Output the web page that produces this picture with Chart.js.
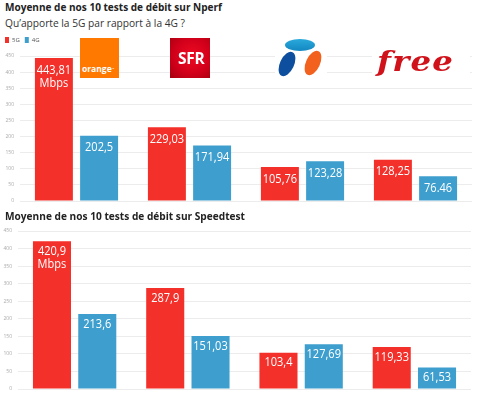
<!DOCTYPE html>
<html><head><meta charset="utf-8">
<script src="https://cdn.jsdelivr.net/npm/chart.js@4.4.0/dist/chart.umd.min.js"></script>
<style>
html,body{margin:0;padding:0;background:#fff;}
#wrap{position:relative;width:480px;height:398px;overflow:hidden;font-family:"Open Sans",sans-serif;}
.t{position:absolute;left:5px;white-space:nowrap;line-height:14px;transform-origin:0 0;}
.b{font-weight:700;font-size:11px;color:#222;}
.s{font-size:11px;color:#333;}
canvas{position:absolute;left:0;}
.logo{position:absolute;overflow:hidden;}
.ov{position:absolute;border-radius:50%;}
</style></head>
<body>
<div id="wrap">
  <canvas id="c1" width="480" height="180" style="top:30px"></canvas>
  <canvas id="c2" width="480" height="176" style="top:222px"></canvas>
  <div class="t b" id="t1" style="top:0px" data-w="217">Moyenne de nos 10 tests de débit sur Nperf</div>
  <div class="t s" id="t2" style="top:16px" data-w="180">Qu’apporte la 5G par rapport à la 4G ?</div>
  <div class="t b" id="t3" style="top:209px" data-w="240">Moyenne de nos 10 tests de débit sur Speedtest</div>

  <div class="logo" style="left:80px;top:38px;width:39px;height:40px;background:#ff7900;">
    <span style="position:absolute;left:2px;top:26px;color:#fff;font:700 8.5px/10px 'Open Sans';white-space:nowrap;">orange<span style="font-size:3px;vertical-align:top">™</span></span>
  </div>
  <div class="logo" style="left:170px;top:38px;width:40px;height:40px;background:radial-gradient(circle at 55% 45%, #ee0a22 0%, #d3001b 55%, #a5000f 100%);">
    <span style="position:absolute;left:8px;top:12px;color:#fff;font:700 15.5px/16px 'Open Sans';letter-spacing:-0.3px;">SFR</span>
  </div>
  <div class="logo" style="left:275px;top:37px;width:52px;height:41px;background:#fff;">
    <div class="ov" style="left:10px;top:2px;width:30px;height:12px;background:linear-gradient(#29a9db,#1487c2);"></div>
    <div class="ov" style="left:5px;top:14px;width:14px;height:26px;background:#0d4f9e;transform:rotate(25deg);"></div>
    <div class="ov" style="left:31px;top:13px;width:14px;height:26px;background:#f2611d;transform:rotate(25deg);"></div>
  </div>
  <div class="logo" style="left:372px;top:40px;width:98px;height:40px;background:#fff;">
    <span style="position:absolute;left:5px;top:4px;color:#d0121b;font:italic 700 27px/36px 'DejaVu Serif';letter-spacing:1px;transform:scaleX(1.2);transform-origin:0 0;white-space:nowrap;">free</span>
  </div>
</div>
<script>
const categories = ["Orange", "SFR", "Bouygues Telecom", "Free"];
const seriesNames = ["5G", "4G"];
const nperf5G = [443.81, 229.03, 105.76, 128.25];
const nperf4G = [202.5, 171.94, 123.28, 76.46];
const speedtest5G = [420.9, 287.9, 103.4, 119.33];
const speedtest4G = [213.6, 151.03, 127.69, 61.53];
const nperf5GLabels = ["443,81\nMbps", "229,03", "105,76", "128,25"];
const nperf4GLabels = ["202,5", "171,94", "123,28", "76.46"];
const speedtest5GLabels = ["420,9\nMbps", "287,9", "103,4", "119,33"];
const speedtest4GLabels = ["213,6", "151,03", "127,69", "61,53"];
const yTicks = [0, 50, 100, 150, 200, 250, 300, 350, 400, 450];

const RED = '#f4302b';
const BLUE = '#3e9fce';

// fit titles to reference widths
(function(){
  const m = document.createElement('canvas').getContext('2d');
  document.querySelectorAll('.t').forEach(el => {
    const cs = getComputedStyle(el);
    m.font = cs.fontWeight + ' ' + cs.fontSize + ' "Open Sans"';
    const w = m.measureText(el.textContent).width;
    el.style.transform = 'scaleX(' + (parseFloat(el.dataset.w) / w) + ')';
  });
})();

const valueLabels = {
  id: 'valueLabels',
  afterDatasetsDraw(chart, args, opts) {
    const ctx = chart.ctx;
    chart.data.datasets.forEach((ds, i) => {
      const meta = chart.getDatasetMeta(i);
      meta.data.forEach((bar, j) => {
        const lines = ds.valueLabels[j].split('\n');
        lines.forEach((ln, k) => {
          ctx.save();
          ctx.fillStyle = '#ffffff';
          ctx.font = '13px "Open Sans"';
          ctx.textAlign = 'center';
          ctx.textBaseline = 'middle';
          ctx.translate(bar.x, bar.y + opts.offset + k * opts.lineGap);
          ctx.scale(0.85, 1);
          ctx.fillText(ln, 0, 0);
          ctx.restore();
        });
      });
    });
  }
};

const legendSpacer = {
  id: 'legendSpacer',
  beforeLayout(chart) {
    const lg = chart.legend;
    if (lg && !lg._spaced) {
      const f = lg.fit;
      lg.fit = function() { f.call(this); if (this.options.display) this.height += 3; };
      lg._spaced = true;
    }
  }
};

function makeChart(id, d5, d4, l5, l4, cfg) {
  const plugins = [valueLabels];
  if (cfg.legend) plugins.push(legendSpacer);
  return new Chart(document.getElementById(id), {
    type: 'bar',
    data: {
      labels: categories,
      datasets: [
        { label: seriesNames[0], data: d5, backgroundColor: RED, borderWidth: 0, valueLabels: l5 },
        { label: seriesNames[1], data: d4, backgroundColor: BLUE, borderWidth: 0, valueLabels: l4 }
      ]
    },
    options: {
      responsive: false,
      animation: false,
      devicePixelRatio: 1,
      layout: { padding: cfg.padding },
      datasets: { bar: { categoryPercentage: 0.8, barPercentage: 0.84 } },
      plugins: {
        legend: {
          display: cfg.legend, position: 'top', align: 'start',
          labels: { boxWidth: 4, boxHeight: 6, padding: 5, color: '#555', font: { size: 6, family: 'Open Sans' } }
        },
        tooltip: { enabled: false },
        valueLabels: { offset: cfg.offset, lineGap: 13.5 }
      },
      scales: {
        x: { display: false },
        y: {
          min: 0, max: 450,
          afterFit(s) { s.width = cfg.yWidth; },
          afterBuildTicks(s) { s.ticks = yTicks.map(v => ({ value: v })); },
          border: { display: false },
          grid: { color: '#ececec', drawTicks: false },
          ticks: { padding: 6, color: '#aaa', font: { size: 5, family: 'Open Sans' } }
        }
      }
    },
    plugins
  });
}

makeChart('c1', nperf5G, nperf4G, nperf5GLabels, nperf4GLabels,
  { legend: true, padding: { top: 2, right: 8, bottom: 8, left: 0 }, yWidth: 20, offset: 12 });
makeChart('c2', speedtest5G, speedtest4G, speedtest5GLabels, speedtest4GLabels,
  { legend: false, padding: { top: 9, right: 9, bottom: 4, left: 0 }, yWidth: 18, offset: 10 });
</script>
</body></html>
